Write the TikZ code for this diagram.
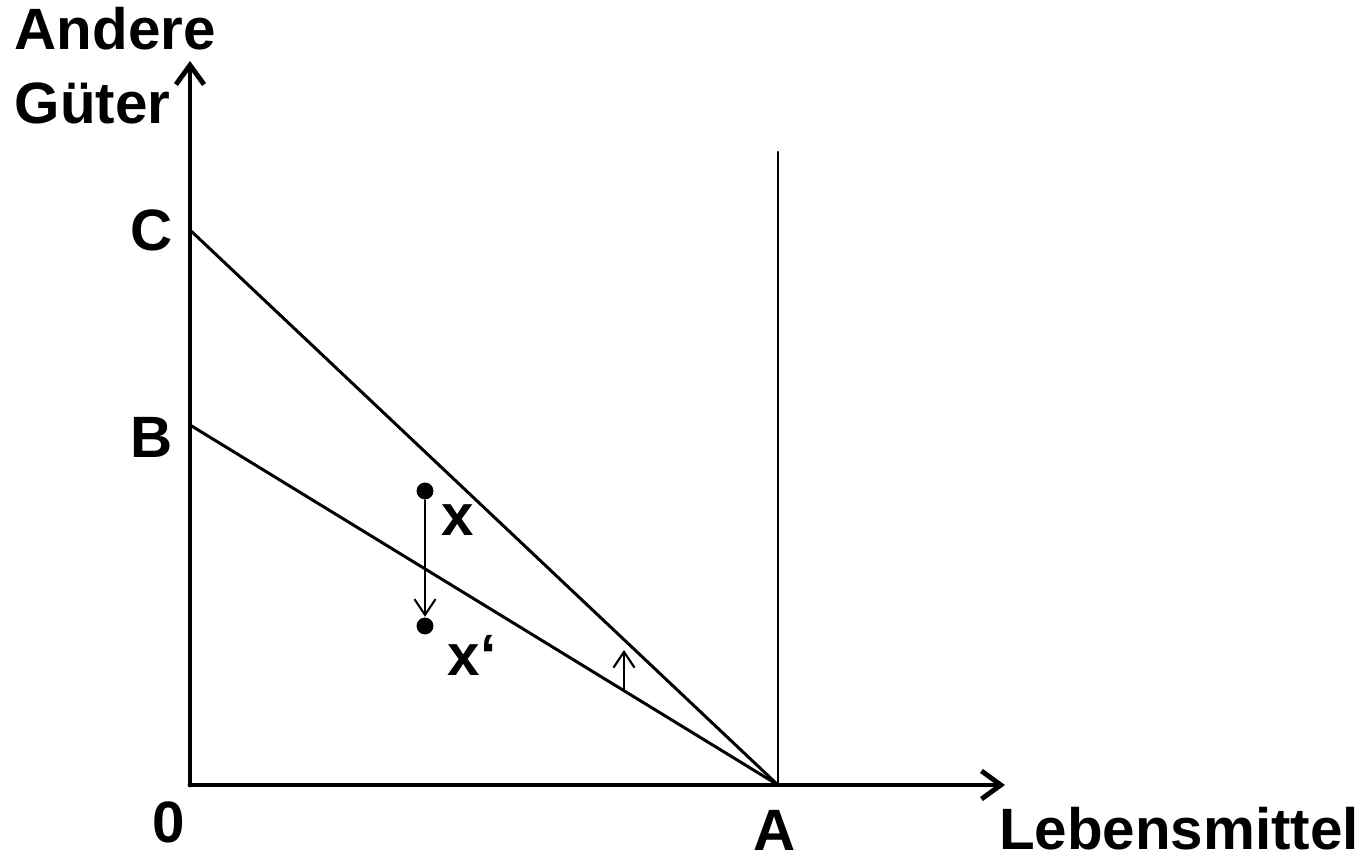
\documentclass[tikz,border=0pt]{standalone}
\usepackage{fontspec}
\setmainfont{Liberation Sans}
\usetikzlibrary{arrows.meta,positioning}
\definecolor{inkblack}{HTML}{000000}

\tikzset{
  lbl/.style={font=\fontsize{16.6}{21}\selectfont\bfseries, inner sep=0pt},
  axisline/.style={inkblack, line width=1.4pt, -{Straight Barb[length=5.5pt,width=8pt,line width=1.4pt]}},
  budget/.style={inkblack, line width=0.85pt},
  moveline/.style={inkblack, line width=0.6pt, -{Straight Barb[length=4.5pt,width=6pt]}},
  dot/.style={circle, fill=inkblack, inner sep=0pt, minimum size=4.8pt}
}

\begin{document}
\begin{tikzpicture}[line cap=round]
  \useasboundingbox (0,0) rectangle (13.64,8.57);

  \coordinate (O) at (1.90,0.72);
  \coordinate (ytop) at (1.90,7.96);
  \coordinate (xend) at (10.05,0.72);
  \coordinate (C) at (1.90,6.27);
  \coordinate (B) at (1.90,4.32);
  \coordinate (A) at (7.78,0.72);
  \coordinate (Atop) at (7.78,7.05);
  \coordinate (lowlo) at (6.24,1.67);
  \coordinate (lowhi) at (6.24,2.07);

  % axes
  \draw[axisline] (O) -- (ytop);
  \draw[axisline] (O) -- (xend);

  % budget lines
  \draw[budget] (C) -- (A);
  \draw[budget] (B) -- (A);
  \draw[inkblack, line width=0.6pt] (A) -- (Atop);

  % points
  \node[dot] (px) at (4.25,3.66) {};
  \node[dot] (pxp) at (4.25,2.31) {};
  \draw[moveline] (px) -- (pxp.north);
  \draw[moveline] (lowlo) -- (lowhi);

  \node[lbl, align=left, anchor=north west] (yname) at (0.14,8.50) {Andere\\Güter};
  \node[lbl] (lC) at (1.52,6.27) {C};
  \node[lbl] (lB) at (1.52,4.20) {B};
  \node[lbl] (l0) at (1.69,0.35) {0};
  \node[lbl] (lA) at (7.75,0.27) {A};
  \node[lbl] (xname) at (11.79,0.28) {Lebensmittel};
  \node[lbl] (lx) at (4.58,3.37) {x};
  \node[lbl] (lxp) at (4.72,2.02) {x‘};
\end{tikzpicture}
\end{document}
